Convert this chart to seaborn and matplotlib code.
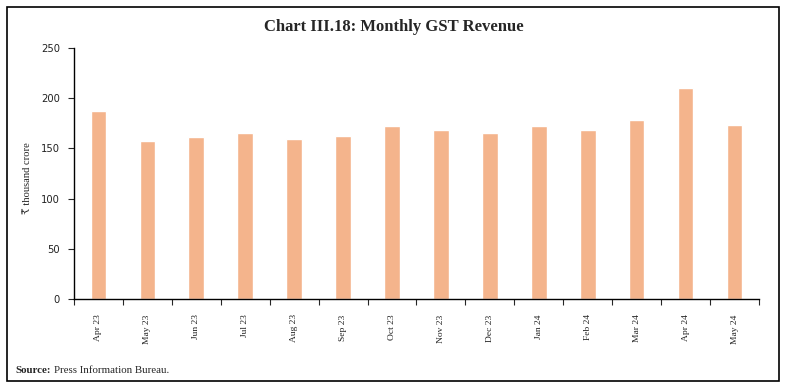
import numpy as np
import pandas as pd
import matplotlib
matplotlib.use('Agg')
import matplotlib.pyplot as plt
from matplotlib.patches import Rectangle
from matplotlib.ticker import FixedLocator
import seaborn as sns

# data (Rs thousand crore)
months = ['Apr 23', 'May 23', 'Jun 23', 'Jul 23', 'Aug 23', 'Sep 23', 'Oct 23',
          'Nov 23', 'Dec 23', 'Jan 24', 'Feb 24', 'Mar 24', 'Apr 24', 'May 24']
gst = [187.0, 157.1, 161.5, 165.1, 159.1, 162.7, 172.0,
       167.9, 164.9, 172.1, 168.3, 178.5, 210.3, 173.0]
yticks = [0, 50, 100, 150, 200, 250]

df = pd.DataFrame({'month': months, 'gst': gst})

sns.set_style('white')
serif = ['Liberation Serif', 'DejaVu Serif', 'DejaVu Sans']

fig = plt.figure(figsize=(7.87, 3.90), dpi=100)
ax = fig.add_axes([0.094, 0.2333, 0.8704, 0.6436])

sns.barplot(data=df, x='month', y='gst', color='#F4B48C', saturation=1,
            width=0.32, ax=ax)

ax.set_xlim(-0.5, len(months) - 0.5)
ax.set_ylim(0, 250)
ax.set_yticks(yticks)
ax.set_yticklabels([str(v) for v in yticks], fontsize=7.2, family='DejaVu Sans', color='#222222')
ax.set_xticks(range(len(months)))
ax.set_xticklabels(months, rotation=90, fontsize=6.8, family=serif, color='#222222')
ax.xaxis.set_minor_locator(FixedLocator(np.arange(-0.5, len(months), 1.0)))
ax.tick_params(axis='x', which='major', length=0, pad=11)
ax.tick_params(axis='x', which='minor', length=4, width=0.8, direction='out', bottom=True)
ax.tick_params(axis='y', length=4, width=0.8, direction='out', left=True, pad=6)

ax.set_xlabel('')
ax.set_ylabel('₹ thousand crore', fontsize=7.6, family=serif)
ax.yaxis.set_label_coords(-0.061, 0.48)

for s in ['top', 'right']:
    ax.spines[s].set_visible(False)
for s in ['left', 'bottom']:
    ax.spines[s].set_color('black')
    ax.spines[s].set_linewidth(1.0)

fig.text(0.5, 0.931, 'Chart III.18: Monthly GST Revenue', ha='center', va='center',
         fontsize=12, fontweight='bold', family=serif)
fig.text(0.02, 0.051, 'Source:', ha='left', va='center', fontsize=7.8,
         fontweight='bold', family=serif)
fig.text(0.068, 0.051, 'Press Information Bureau.', ha='left', va='center',
         fontsize=7.8, family=serif)

fig.patches.append(Rectangle((0.0089, 0.023), 0.981, 0.959, transform=fig.transFigure,
                             fill=False, edgecolor='black', linewidth=1.2))

plt.savefig('out.png', dpi=100)
plt.close()
